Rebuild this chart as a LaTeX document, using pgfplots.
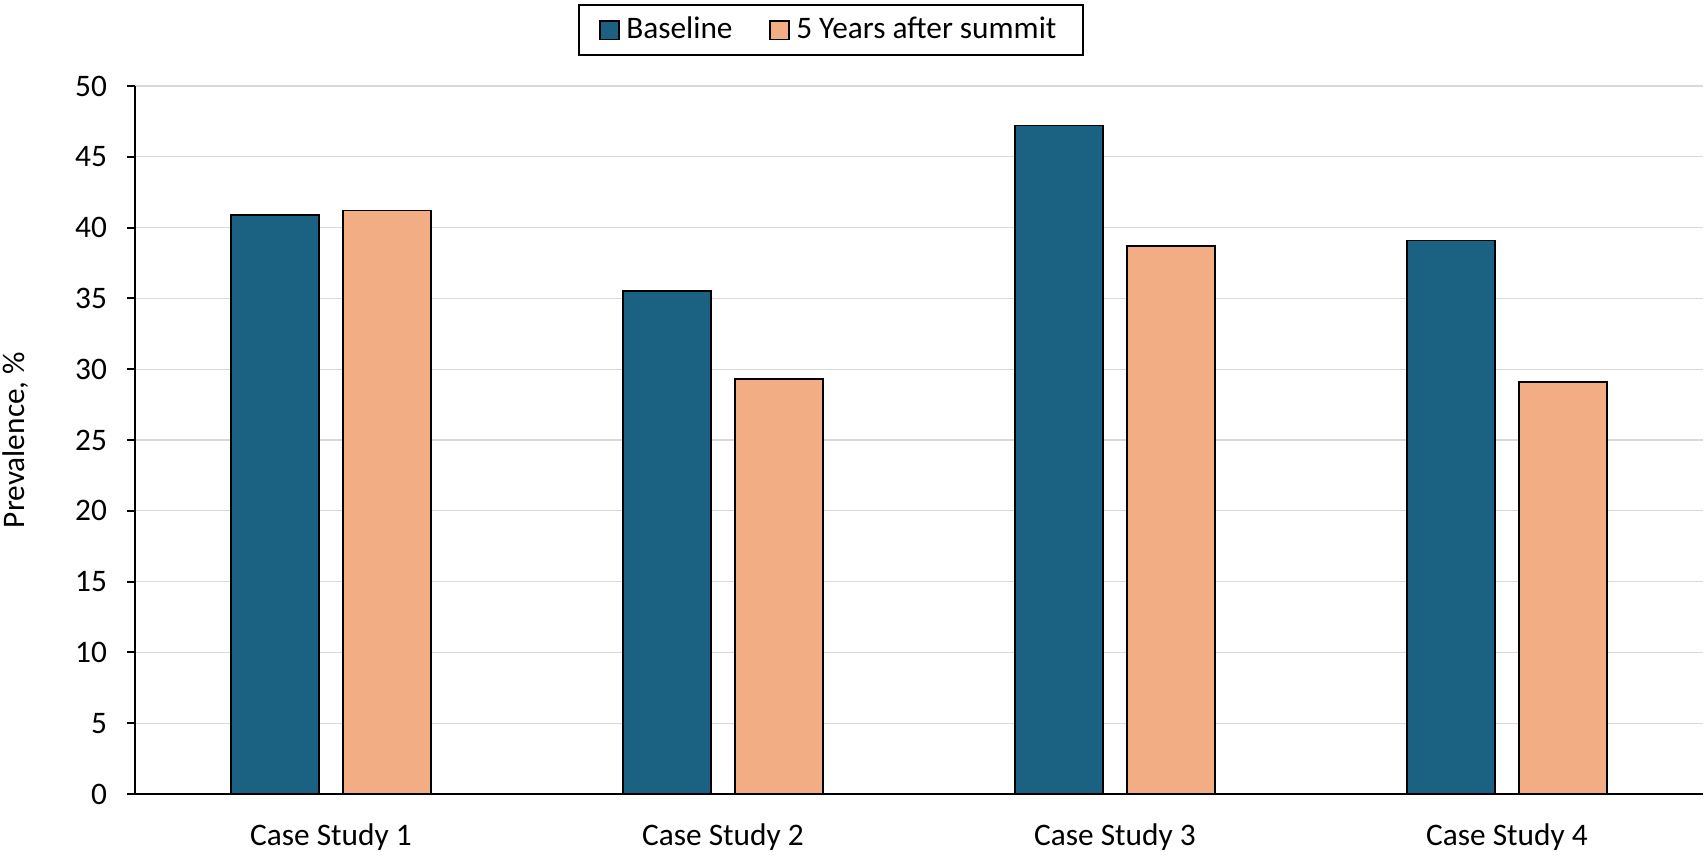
\documentclass[border=0pt]{standalone}
\usepackage{pgfplots}
\pgfplotsset{compat=1.18}
\usepackage{fontspec}
\setmainfont{Carlito}
\definecolor{cblue}{RGB}{27,98,130}
\definecolor{corange}{RGB}{242,173,132}
\definecolor{cgrid}{RGB}{217,217,217}
\pgfplotsset{
  sqleg/.style={legend image code/.code={\draw[##1, draw=black, line width=0.5pt] (0pt,-2.8pt) rectangle (5.6pt,2.8pt);}}
}
\begin{document}
\begin{tikzpicture}
\path[use as bounding box] (0,0) rectangle (511.8pt,256.5pt);
\begin{axis}[
  at={(40.5pt,18.3pt)}, anchor=south west,
  scale only axis, width=470.4pt, height=212.4pt,
  xmin=-0.5, xmax=3.5, ymin=0, ymax=50,
  ytick={0,5,...,50},
  xtick={0,1,2,3},
  xticklabels={Case Study 1,Case Study 2,Case Study 3,Case Study 4},
  axis lines*=left,
  axis line style={black, line width=0.6pt},
  major x tick style={draw=none},
  y tick style={black, line width=0.6pt},
  tick align=outside, major tick length=2.4pt,
  ymajorgrids, grid style={cgrid, line width=0.4pt},
  font=\fontsize{9.4}{11}\selectfont,
  /pgf/number format/assume math mode=true,
  yticklabel style={xshift=-2.5pt},
  xticklabel style={yshift=-3pt},
  ylabel={Prevalence, \%},
  ylabel style={at={(axis description cs:-0.0759,0.5)}, anchor=center},
  legend columns=2,
  legend style={at={(axis description cs:0.444,1.079)}, anchor=center,
    draw=black, line width=0.6pt, inner xsep=6pt, inner ysep=1.5pt,
    font=\fontsize{9.4}{11}\selectfont,
    /tikz/every even column/.append style={column sep=9pt}},
]
\addplot[ybar, bar width=0.2245, bar shift=-0.143, fill=cblue, draw=black, line width=0.5pt, sqleg]
  coordinates {(0,40.9) (1,35.5) (2,47.2) (3,39.1)};
\addlegendentry{Baseline}
\addplot[ybar, bar width=0.2245, bar shift=0.143, fill=corange, draw=black, line width=0.5pt, sqleg]
  coordinates {(0,41.2) (1,29.3) (2,38.7) (3,29.1)};
\addlegendentry{5 Years after summit}
\end{axis}
\end{tikzpicture}
\end{document}
